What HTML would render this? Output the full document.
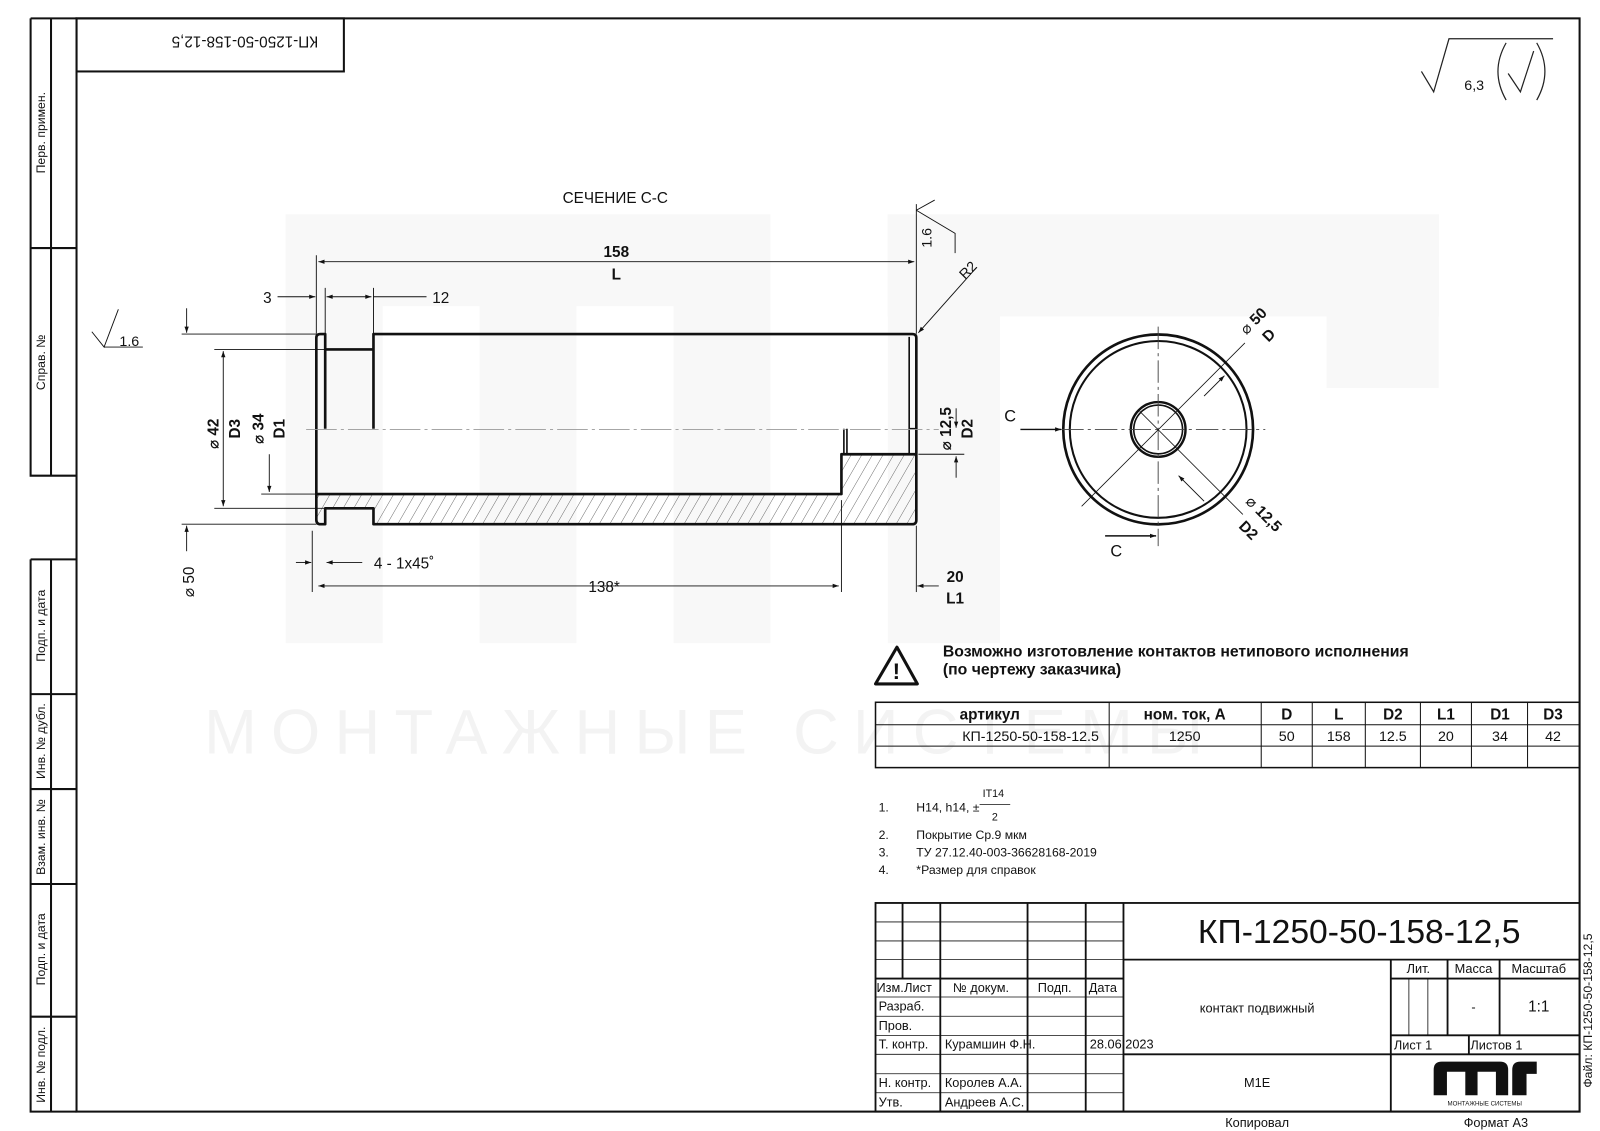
<!DOCTYPE html>
<html><head><meta charset="utf-8"><style>
html,body{margin:0;padding:0;background:#fff;}
svg{display:block;}
text{font-family:"Liberation Sans","DejaVu Sans",sans-serif;fill:#111;}
</style></head><body>
<svg width="1600" height="1131" viewBox="0 0 1568 1108" preserveAspectRatio="none" xmlns="http://www.w3.org/2000/svg">
<defs>
<marker id="a" viewBox="0 0 10 10" refX="10" refY="5" markerWidth="9" markerHeight="6" orient="auto-start-reverse" markerUnits="userSpaceOnUse"><path d="M0,1.5 L10,5 L0,8.5z" fill="#111"/></marker>
<pattern id="h" width="9" height="9" patternUnits="userSpaceOnUse" patternTransform="rotate(30)"><line x1="0" y1="0" x2="0" y2="9" stroke="#333" stroke-width="0.7"/></pattern>
</defs>
<rect x="0" y="0" width="1568" height="1108" fill="#fff"/>
<!-- watermark -->
<g fill="#f8f8f8">
<rect x="280" y="210" width="95" height="420"/><rect x="280" y="210" width="420" height="90"/><rect x="470" y="210" width="95" height="420"/><rect x="660" y="210" width="95" height="420"/>
<rect x="870" y="210" width="540" height="100"/><rect x="870" y="210" width="110" height="420"/><rect x="1300" y="210" width="110" height="170"/>
</g>
<text x="200" y="738" font-size="62" style="fill:#f3f3f3;letter-spacing:14px">МОНТАЖНЫЕ СИСТЕМЫ</text>

<!-- frame -->
<g stroke="#111" fill="none" stroke-width="2">
<rect x="75" y="18" width="1473" height="1071"/>
<path d="M30,18 H75 M30,18 V466 H75 M50,18 V466 M30,243 H75"/>
<path d="M30,548 H75 M30,548 V1089 H75 M50,548 V1089 M30,680 H75 M30,773 H75 M30,866 H75 M30,996 H75"/>
<rect x="75" y="18" width="262" height="52"/>
</g>
<g font-size="12">
<text transform="translate(44,130) rotate(-90)" text-anchor="middle">Перв. примен.</text>
<text transform="translate(44,355) rotate(-90)" text-anchor="middle">Справ. №</text>
<text transform="translate(44,613) rotate(-90)" text-anchor="middle">Подп. и дата</text>
<text transform="translate(44,726) rotate(-90)" text-anchor="middle">Инв. № дубл.</text>
<text transform="translate(44,820) rotate(-90)" text-anchor="middle">Взам. инв. №</text>
<text transform="translate(44,930) rotate(-90)" text-anchor="middle">Подп. и дата</text>
<text transform="translate(44,1043) rotate(-90)" text-anchor="middle">Инв. № подл.</text>
</g>
<text transform="translate(240,36) rotate(180)" text-anchor="middle" font-size="15">КП-1250-50-158-12,5</text>

<!-- top right roughness -->
<g stroke="#222" fill="none" stroke-width="1.2">
<path d="M1393,70 L1405,90 L1420,38 H1522"/>
<path d="M1476,98 Q1460,70 1476,42"/><path d="M1506,98 Q1522,70 1506,42"/>
<path d="M1478,72 L1490,90 L1503,50"/>
</g>
<text x="1435" y="88" font-size="14">6,3</text>

<text x="603" y="199" font-size="15" text-anchor="middle">СЕЧЕНИЕ С-С</text>

<!-- part -->
<polygon points="310,484 824.6,484 824.6,445 898,445 898,513.5 366,513.5 366,498 318.7,498 318.7,513.5 310,513.5" fill="url(#h)"/>
<g stroke="#111" fill="none" stroke-width="2.6" stroke-linejoin="round">
<path d="M314,327.3 H318.7 V420 M366,420 V327.3 H894 Q898,327.3 898,331 V509.5 Q898,513.5 894,513.5 H366 V498 H318.7 V513.5 H314 Q310,513.5 310,509 V331 Q310,327.3 314,327.3"/>
<path d="M318.7,342.3 H366"/>
<path d="M310,484 H824.6 V445 H898"/>
</g>
<g stroke="#111" stroke-width="1.6" fill="none">
<path d="M891,330 V420 H898 M891,420 V445"/>
<path d="M827,420 V445 M830,420 V445"/>
</g>
<path d="M300,420.7 H920" stroke="#999" stroke-width="0.8" stroke-dasharray="30,4,3,4"/>

<!-- dimensions -->
<g stroke="#111" stroke-width="0.9" fill="none">
<path d="M310,327 V250 M898,327 V200"/>
<path d="M312,256.4 H896" marker-start="url(#a)" marker-end="url(#a)"/>
<path d="M272,290.7 H309" marker-end="url(#a)"/>
<path d="M318.7,336 V282 M366,327 V282"/>
<path d="M320,290.7 H364" marker-start="url(#a)" marker-end="url(#a)"/>
<path d="M366,290.7 H418"/>
<path d="M178,327.3 H310 M178,513.5 H310 M210,342.3 H318 M210,498 H318 M256,484 H310"/>
<path d="M182.9,302 V326" marker-end="url(#a)"/>
<path d="M182.9,540 V515" marker-end="url(#a)"/>
<path d="M218.8,344 V496" marker-start="url(#a)" marker-end="url(#a)"/>
<path d="M263.9,445 V482" marker-end="url(#a)"/>
<path d="M306,520 V580 M824.6,490 V580"/>
<path d="M290,551 H305" marker-end="url(#a)"/>
<path d="M355,551 H320" marker-end="url(#a)"/>
<path d="M312,574 H822" marker-start="url(#a)" marker-end="url(#a)"/>
<path d="M898,515 V580"/>
<path d="M920,574 H899" marker-end="url(#a)"/>
<path d="M900,445 H945"/>
<path d="M937,400 V419" marker-end="url(#a)"/>
<path d="M937,468 V447" marker-end="url(#a)"/>
<path d="M898,206 L936,228.6 V248 M898,206 L916,196"/>
<path d="M957,262 L900,326" marker-end="url(#a)"/>
<path d="M90,325 L102,340 L116,303 M102,340 H140"/>
</g>
<g font-size="15">
<text x="604" y="252" text-anchor="middle" font-weight="bold">158</text>
<text x="604" y="274" text-anchor="middle" font-weight="bold">L</text>
<text x="262" y="297" text-anchor="middle">3</text>
<text x="432" y="297" text-anchor="middle">12</text>
<text x="117" y="339" font-size="14">1.6</text>
<text x="396" y="557" text-anchor="middle">4 - 1x45˚</text>
<text x="592" y="580" text-anchor="middle">138*</text>
<text x="936" y="570" text-anchor="middle" font-weight="bold">20</text>
<text x="936" y="591" text-anchor="middle" font-weight="bold">L1</text>
<text transform="translate(190,570) rotate(-90)" text-anchor="middle">⌀ 50</text>
<text transform="translate(214,425) rotate(-90)" text-anchor="middle" font-weight="bold">⌀ 42</text>
<text transform="translate(235,420) rotate(-90)" text-anchor="middle" font-weight="bold">D3</text>
<text transform="translate(258,420) rotate(-90)" text-anchor="middle" font-weight="bold">⌀ 34</text>
<text transform="translate(279,420) rotate(-90)" text-anchor="middle" font-weight="bold">D1</text>
<text transform="translate(932,420) rotate(-90)" text-anchor="middle" font-weight="bold">⌀ 12,5</text>
<text transform="translate(953,420) rotate(-90)" text-anchor="middle" font-weight="bold">D2</text>
<text transform="translate(913,233) rotate(-90)" text-anchor="middle" font-size="14">1.6</text>
<text transform="translate(952,268) rotate(-45)" text-anchor="middle" font-size="14">R2</text>
</g>

<!-- circle view -->
<g stroke="#111" fill="none">
<circle cx="1135" cy="420.7" r="93" stroke-width="2.6"/>
<circle cx="1135" cy="420.7" r="86.6" stroke-width="2"/>
<circle cx="1135" cy="420.7" r="26.8" stroke-width="2.4"/>
<circle cx="1135" cy="420.7" r="23.9" stroke-width="1.6"/>
<path d="M1040,420.7 H1240 M1135,320 V535" stroke="#444" stroke-width="0.9" stroke-dasharray="22,4,3,4"/>
<path d="M1060,496 L1220,336" stroke-width="0.8"/>
<path d="M1117,403 L1218,504" stroke-width="0.8"/>
<path d="M1180,388 L1200,368" stroke-width="0.9" marker-end="url(#a)"/>
<path d="M1180,491 L1155,466" stroke-width="0.9" marker-end="url(#a)"/>
<path d="M1000,420.7 H1040" stroke-width="1.4" marker-end="url(#a)"/>
<path d="M1083,525 H1133" stroke-width="1.4" marker-end="url(#a)"/>
</g>
<text x="990" y="413" font-size="16" text-anchor="middle">C</text>
<text x="1094" y="545" font-size="16" text-anchor="middle">C</text>
<text transform="translate(1232,318) rotate(-45)" text-anchor="middle" font-size="15"><tspan>⌀ </tspan><tspan font-weight="bold">50</tspan></text>
<text transform="translate(1247,332) rotate(-45)" text-anchor="middle" font-size="15" font-weight="bold">D</text>
<text transform="translate(1235,507) rotate(45)" text-anchor="middle" font-size="15"><tspan>⌀ </tspan><tspan font-weight="bold">12,5</tspan></text>
<text transform="translate(1220,523) rotate(45)" text-anchor="middle" font-size="15" font-weight="bold">D2</text>

<!-- warning -->
<path d="M879,634 L899,670 H858z" fill="none" stroke="#111" stroke-width="3" stroke-linejoin="round"/>
<text x="878.5" y="665" font-size="22" font-weight="bold" text-anchor="middle">!</text>
<text x="924" y="643" font-size="15.5" font-weight="bold">Возможно изготовление контактов нетипового исполнения</text>
<text x="924" y="661" font-size="15.5" font-weight="bold">(по чертежу заказчика)</text>

<!-- table -->
<g stroke="#111" stroke-width="1" fill="none">
<rect x="858" y="688" width="690" height="64" stroke-width="1.5"/>
<path d="M858,710 H1548 M858,731 H1548 M1087,688 V752 M1236,688 V752 M1286,688 V752 M1338,688 V752 M1392,688 V752 M1442,688 V752 M1497,688 V752"/>
</g>
<g font-size="15" text-anchor="middle">
<g font-weight="bold">
<text x="970" y="705">артикул</text><text x="1161" y="705">ном. ток, А</text><text x="1261" y="705">D</text><text x="1312" y="705">L</text><text x="1365" y="705">D2</text><text x="1417" y="705">L1</text><text x="1470" y="705">D1</text><text x="1522" y="705">D3</text>
</g>
<g font-size="14">
<text x="1010" y="726">КП-1250-50-158-12.5</text><text x="1161" y="726">1250</text><text x="1261" y="726">50</text><text x="1312" y="726">158</text><text x="1365" y="726">12.5</text><text x="1417" y="726">20</text><text x="1470" y="726">34</text><text x="1522" y="726">42</text>
</g>
</g>

<!-- notes -->
<g font-size="12">
<text x="861" y="795">1.</text><text x="898" y="795">H14, h14, ±</text>
<text x="963" y="781" font-size="10.5">IT14</text><line x1="960" y1="788" x2="990" y2="788" stroke="#111" stroke-width="0.8"/><text x="972" y="804" font-size="10.5">2</text>
<text x="861" y="822">2.</text><text x="898" y="822">Покрытие Ср.9 мкм</text>
<text x="861" y="839">3.</text><text x="898" y="839">ТУ 27.12.40-003-36628168-2019</text>
<text x="861" y="856">4.</text><text x="898" y="856">*Размер для справок</text>
</g>

<!-- title block -->
<g stroke="#111" fill="none" stroke-width="1.8">
<rect x="858" y="884.6" width="690" height="204.4"/>
<path d="M884.5,884.6 V958.7 M921.5,884.6 V1089 M1007,884.6 V1089 M1064,884.6 V1089 M1101,884.6 V1089"/>
<path d="M1101,940.1 H1548 M1363,940.1 V1089 M1101,1032.9 H1548 M1363,958.7 H1548 M1418.6,940.1 V1014.3 M1469.6,940.1 V1014.3 M1363,1014.3 H1548 M1439.5,1014.3 V1032.9"/>
<path d="M858,958.7 H1101"/>
</g>
<g stroke="#111" fill="none" stroke-width="0.8">
<path d="M858,903.2 H1101 M858,921.8 H1101 M858,940.1 H1101 M858,976.7 H1101 M858,995.6 H1101 M858,1014.3 H1101 M858,1032.9 H1101 M858,1051.9 H1101 M858,1070.5 H1101"/>
<path d="M1380.7,958.7 V1014.3 M1399.3,958.7 V1014.3"/>
</g>
<text x="1332" y="924" font-size="33" text-anchor="middle">КП-1250-50-158-12,5</text>
<g font-size="12.5">
<text x="859" y="972">Изм.</text><text x="886" y="972">Лист</text><text x="934" y="972">№ докум.</text><text x="1017" y="972">Подп.</text><text x="1067" y="972">Дата</text>
<text x="861" y="990">Разраб.</text><text x="861" y="1009">Пров.</text><text x="861" y="1027">Т. контр.</text>
<text x="926" y="1027">Курамшин Ф.Н.</text><text x="1068" y="1027">28.06.2023</text>
<text x="861" y="1065">Н. контр.</text><text x="926" y="1065">Королев А.А.</text>
<text x="861" y="1084">Утв.</text><text x="926" y="1084">Андреев А.С.</text>
<text x="1232" y="992" text-anchor="middle">контакт подвижный</text>
<text x="1232" y="1065" text-anchor="middle">M1E</text>
<text x="1390" y="953" text-anchor="middle">Лит.</text><text x="1444" y="953" text-anchor="middle">Масса</text><text x="1508" y="953" text-anchor="middle">Масштаб</text>
<text x="1444" y="991" text-anchor="middle">-</text><text x="1508" y="991" text-anchor="middle" font-size="15">1:1</text>
<text x="1366" y="1028">Лист 1</text><text x="1441" y="1028">Листов 1</text>
<text x="1232" y="1104" text-anchor="middle">Копировал</text><text x="1466" y="1104" text-anchor="middle">Формат А3</text>
</g>
<text transform="translate(1560,990) rotate(-90)" text-anchor="middle" font-size="12">Файл: КП-1250-50-158-12,5</text>
<!-- logo -->
<g fill="#111">
<path d="M1405,1073 V1048 Q1405,1040 1413,1040 H1470 Q1478,1040 1478,1048 V1073 H1466 V1050 H1448 V1073 H1436 V1050 H1418 V1073z"/>
<path d="M1482,1073 V1048 Q1482,1040 1490,1040 H1506 V1052 H1496 V1073z"/>
</g>
<text x="1455" y="1083" font-size="6" text-anchor="middle">МОНТАЖНЫЕ СИСТЕМЫ</text>
</svg>
</body></html>
